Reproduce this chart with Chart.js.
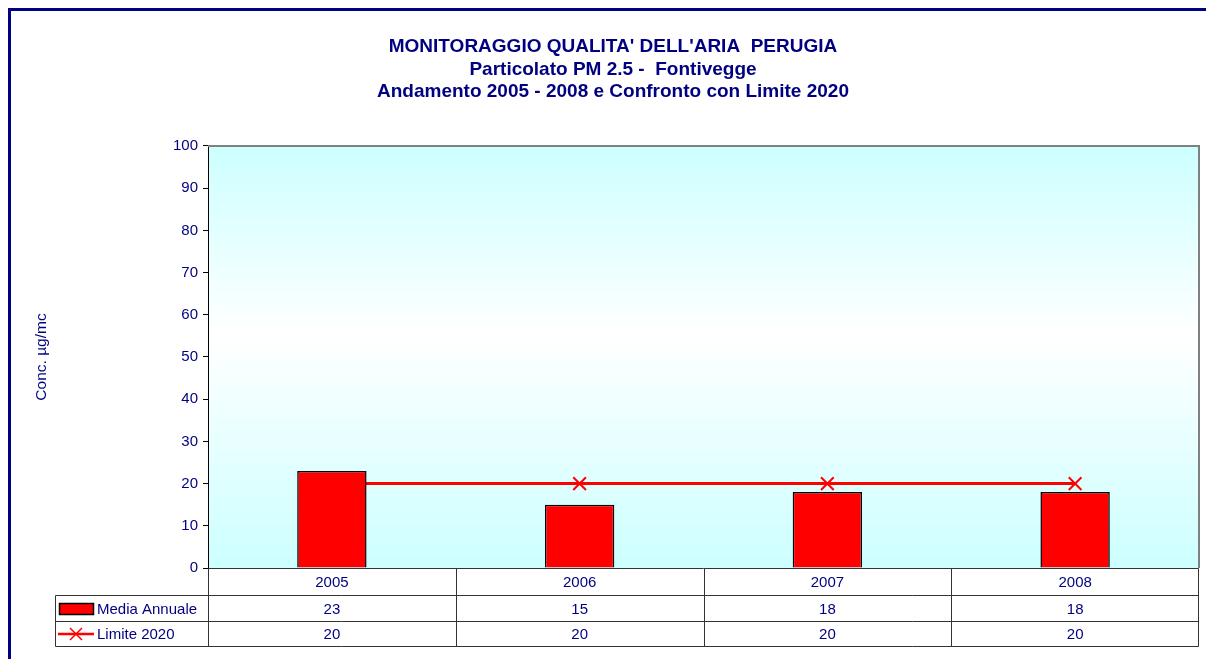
<!DOCTYPE html>
<html>
<head>
<meta charset="utf-8">
<script src="https://cdn.jsdelivr.net/npm/chart.js@4/dist/chart.umd.min.js"></script>
<style>
  html, body { margin: 0; padding: 0; background: #fff; overflow: hidden; }
  canvas { display: block; }
</style>
</head>
<body>
<canvas id="pmChart" width="1206" height="659"></canvas>
<script>
const years = ['2005', '2006', '2007', '2008'];
const mediaAnnuale = [23, 15, 18, 18];
const limite2020 = [20, 20, 20, 20];
const titleLines = [
    "MONITORAGGIO QUALITA' DELL'ARIA  PERUGIA",
    'Particolato PM 2.5 -  Fontivegge',
    'Andamento 2005 - 2008 e Confronto con Limite 2020'
];
const yTitle = 'Conc. µg/mc';

const FONT = "'Liberation Sans', Arial, sans-serif";
const NAVY = '#000080';

// background, frame and plot area gradient
const backdrop = {
    id: 'backdrop',
    beforeDraw(chart) {
        const ctx = chart.ctx;
        const a = chart.chartArea;
        ctx.save();
        ctx.fillStyle = '#fff';
        ctx.fillRect(0, 0, chart.width, chart.height);
        const g = ctx.createLinearGradient(0, a.top, 0, a.bottom);
        g.addColorStop(0, '#ccffff');
        g.addColorStop(0.45, '#ffffff');
        g.addColorStop(1, '#ccffff');
        ctx.fillStyle = g;
        ctx.fillRect(a.left, a.top, a.right - a.left, a.bottom - a.top);
        ctx.restore();
    },
    afterDraw(chart) {
        const ctx = chart.ctx;
        const a = chart.chartArea;
        ctx.save();
        // outer frame
        ctx.strokeStyle = NAVY;
        ctx.lineWidth = 3;
        ctx.strokeRect(9.5, 9.5, chart.width + 20, chart.height + 20);
        // plot border top/right
        ctx.strokeStyle = '#808080';
        ctx.lineWidth = 2;
        ctx.beginPath();
        ctx.moveTo(a.left, a.top);
        ctx.lineTo(a.right, a.top);
        ctx.lineTo(a.right, a.bottom);
        ctx.stroke();
        ctx.restore();
    }
};

// data table under the plot
const dataTable = {
    id: 'dataTable',
    afterDraw(chart) {
        const ctx = chart.ctx;
        const a = chart.chartArea;
        const x = chart.scales.x;
        const rowH = [27, 26, 25];
        const y0 = Math.round(a.bottom) + 0.5;
        const y1 = y0 + rowH[0];
        const y2 = y1 + rowH[1];
        const y3 = y2 + rowH[2];
        const tableLeft = 55.5;
        const L = Math.round(a.left) + 0.5;
        const R = Math.round(a.right) - 0.5;
        const colW = (a.right - a.left) / years.length;

        ctx.save();
        ctx.strokeStyle = '#333';
        ctx.lineWidth = 1;
        ctx.beginPath();
        // horizontal lines
        ctx.moveTo(L, y0); ctx.lineTo(R, y0);
        ctx.moveTo(tableLeft, y1); ctx.lineTo(R, y1);
        ctx.moveTo(tableLeft, y2); ctx.lineTo(R, y2);
        ctx.moveTo(tableLeft, y3); ctx.lineTo(R, y3);
        // vertical lines
        ctx.moveTo(tableLeft, y1); ctx.lineTo(tableLeft, y3);
        for (let i = 0; i <= years.length; i++) {
            const xx = Math.round(a.left + colW * i) + (i === years.length ? -0.5 : 0.5);
            ctx.moveTo(xx, y0); ctx.lineTo(xx, y3);
        }
        ctx.stroke();

        ctx.fillStyle = NAVY;
        ctx.font = '15px ' + FONT;
        ctx.textAlign = 'center';
        ctx.textBaseline = 'middle';
        years.forEach((yr, i) => {
            const cx = x.getPixelForValue(i);
            ctx.fillText(yr, cx, (y0 + y1) / 2 + 1);
            ctx.fillText(String(mediaAnnuale[i]), cx, (y1 + y2) / 2 + 1);
            ctx.fillText(String(limite2020[i]), cx, (y2 + y3) / 2 + 1);
        });

        // legend keys
        ctx.fillStyle = '#ff0000';
        ctx.fillRect(59.5, 603.5, 34, 11);
        ctx.strokeStyle = '#000';
        ctx.lineWidth = 1.5;
        ctx.strokeRect(59.5, 603.5, 34, 11);
        const ly = (y2 + y3) / 2;
        ctx.strokeStyle = '#ff0000';
        ctx.lineWidth = 2.5;
        ctx.beginPath();
        ctx.moveTo(58, ly); ctx.lineTo(94, ly);
        ctx.stroke();
        ctx.lineWidth = 1.5;
        ctx.beginPath();
        ctx.moveTo(70, ly - 6); ctx.lineTo(82, ly + 6);
        ctx.moveTo(82, ly - 6); ctx.lineTo(70, ly + 6);
        ctx.stroke();

        ctx.fillStyle = NAVY;
        ctx.textAlign = 'left';
        ctx.fillText('Media Annuale', 97, (y1 + y2) / 2 + 1);
        ctx.fillText('Limite 2020', 97, ly + 1);
        ctx.restore();
    }
};

new Chart(document.getElementById('pmChart'), {
    data: {
        labels: years,
        datasets: [{
            type: 'bar',
            label: 'Media Annuale',
            data: mediaAnnuale,
            backgroundColor: '#ff0000',
            borderColor: '#000000',
            borderWidth: 1.5,
            barPercentage: 0.28,
            categoryPercentage: 1,
            order: 1
        }, {
            type: 'line',
            label: 'Limite 2020',
            data: limite2020,
            borderColor: '#ff0000',
            borderWidth: 3,
            pointStyle: 'crossRot',
            pointRadius: 9,
            pointBorderColor: '#ff0000',
            pointBorderWidth: 2,
            order: 2
        }]
    },
    options: {
        responsive: false,
        animation: false,
        layout: {
            autoPadding: false,
            padding: { top: 8, left: 27, right: 7, bottom: 91 }
        },
        plugins: {
            legend: { display: false },
            tooltip: { enabled: false },
            title: {
                display: true,
                text: titleLines,
                color: NAVY,
                font: { family: FONT, size: 19, weight: 'bold', lineHeight: 1.184 },
                padding: { top: 28, bottom: 42.5 }
            }
        },
        scales: {
            x: {
                display: false
            },
            y: {
                min: 0,
                max: 100,
                afterFit(scale) { scale.width = 181; },
                ticks: {
                    stepSize: 10,
                    padding: 5,
                    color: NAVY,
                    font: { family: FONT, size: 15 }
                },
                grid: {
                    drawOnChartArea: false,
                    tickLength: 5,
                    color: '#000'
                },
                border: { color: '#000', width: 1 },
                title: {
                    display: true,
                    text: yTitle,
                    color: NAVY,
                    font: { family: FONT, size: 15.5 },
                    padding: { top: 5.5, bottom: 0 }
                }
            }
        }
    },
    plugins: [backdrop, dataTable]
});
</script>
</body>
</html>
